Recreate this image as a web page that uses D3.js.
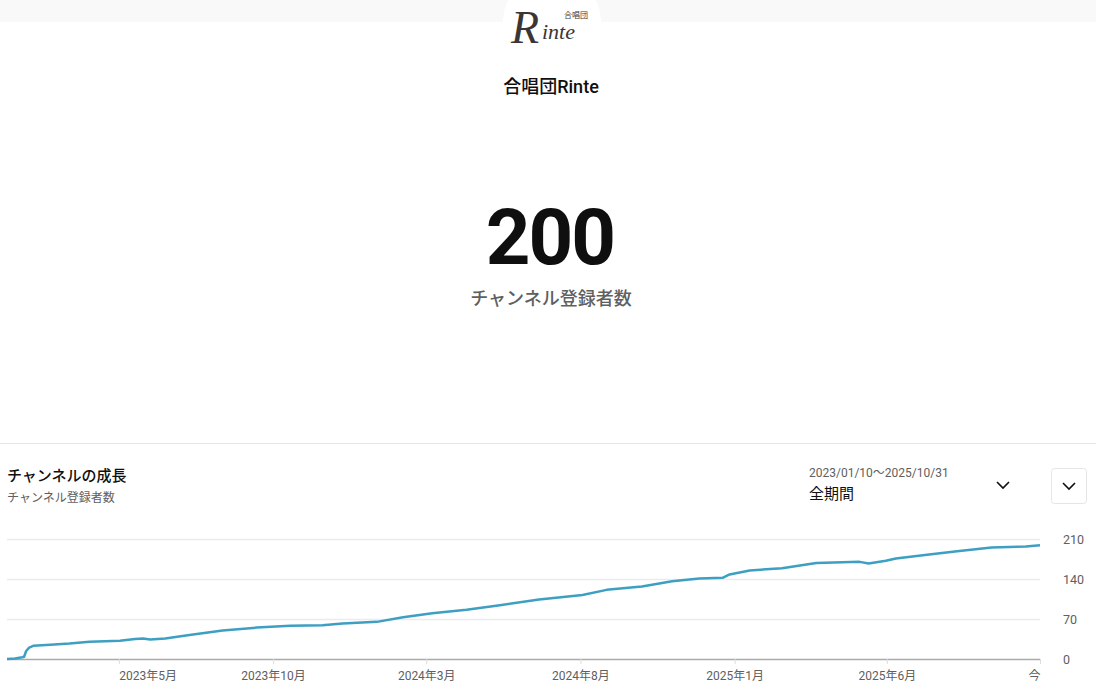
<!DOCTYPE html>
<html>
<head>
<meta charset="utf-8">
<script src="https://cdn.jsdelivr.net/npm/d3@7"></script>
<style>
  html, body { margin: 0; padding: 0; background: #fff; }
  body { width: 1096px; height: 698px; overflow: hidden; font-family: Roboto, "Noto Sans CJK JP", sans-serif; }
</style>
</head>
<body>
<svg id="chart" width="1096" height="698"></svg>
<script>
// ---- data ----
const channelName = "合唱団Rinte";
const subscriberTotal = "200";
const subscriberLabel = "チャンネル登録者数";
const panelTitle = "チャンネルの成長";
const panelSubtitle = "チャンネル登録者数";
const rangeText = "2023/01/10〜2025/10/31";
const periodText = "全期間";

const dates = [
  "2023-01-10","2023-01-18","2023-01-25","2023-01-27","2023-01-29","2023-02-01","2023-02-05",
  "2023-02-22","2023-03-13","2023-04-02","2023-05-02","2023-05-17","2023-05-25","2023-06-01",
  "2023-06-16","2023-07-10","2023-08-12","2023-09-15","2023-10-18","2023-11-19","2023-12-09",
  "2024-01-12","2024-02-07","2024-03-07","2024-04-10","2024-05-13","2024-06-21","2024-08-03",
  "2024-08-27","2024-10-01","2024-10-31","2024-11-27","2024-12-20","2024-12-27","2025-01-16",
  "2025-02-17","2025-03-23","2025-05-05","2025-05-14","2025-05-31","2025-06-10","2025-07-13",
  "2025-08-12","2025-09-13","2025-10-17","2025-10-31"
];
const subscribers = [
  0, 1, 3, 4, 14, 20, 23,
  25, 27, 30, 32, 35, 36, 34,
  36, 42, 50, 55, 58, 59, 62,
  65, 73, 80, 86, 94, 104, 112,
  121, 127, 136, 141, 142, 148, 155,
  159, 168, 170, 167, 172, 176, 183,
  189, 195, 197, 199
];
const xTickDates = ["2023-05-01","2023-10-01","2024-03-01","2024-08-01","2025-01-01","2025-06-01","2025-10-31"];
const xTickLabels = ["2023年5月","2023年10月","2024年3月","2024年8月","2025年1月","2025年6月","今"];
const yTickValues = [0, 70, 140, 210];

// ---- drawing ----
const svg = d3.select("#chart");
const parse = d3.timeParse("%Y-%m-%d");
const series = dates.map((d, i) => ({ date: parse(d), value: subscribers[i] }));

// header band + logo
svg.append("rect").attr("x", 0).attr("y", 0).attr("width", 1096).attr("height", 22).attr("fill", "#f9f9f9");
svg.append("circle").attr("cx", 552).attr("cy", 22).attr("r", 49).attr("fill", "#fff");
const logo = svg.append("g").attr("fill", "#3b3535");
logo.append("text").attr("x", 511).attr("y", 43)
  .attr("font-family", "'Liberation Serif', 'DejaVu Serif', serif").attr("font-style", "italic")
  .attr("font-size", 46).text("R");
logo.append("text").attr("x", 542).attr("y", 39)
  .attr("font-family", "'Liberation Serif', serif").attr("font-style", "italic")
  .attr("font-size", 22).text("inte");
logo.append("text").attr("x", 564).attr("y", 18)
  .attr("font-family", "'Noto Sans CJK JP', sans-serif")
  .attr("font-size", 8).text("合唱団");

// channel name
svg.append("text").attr("x", 551).attr("y", 93).attr("text-anchor", "middle")
  .attr("font-size", 18).attr("font-weight", 500).attr("fill", "#0f0f0f")
  .attr("font-family", "Roboto, 'Noto Sans CJK JP', sans-serif").text(channelName);

// big number
svg.append("text").attr("x", 550).attr("y", 264).attr("text-anchor", "middle")
  .attr("font-size", 78).attr("font-weight", 700).attr("fill", "#0f0f0f")
  .attr("letter-spacing", "-2px")
  .attr("font-family", "Roboto, sans-serif").text(subscriberTotal);
svg.append("text").attr("x", 551).attr("y", 305).attr("text-anchor", "middle")
  .attr("font-size", 18).attr("font-weight", 500).attr("fill", "#606060")
  .attr("font-family", "'Noto Sans CJK JP', sans-serif").text(subscriberLabel);

// separator
svg.append("line").attr("x1", 0).attr("x2", 1096).attr("y1", 443.5).attr("y2", 443.5)
  .attr("stroke", "#e5e5e5").attr("stroke-width", 1);

// panel header
svg.append("text").attr("x", 7).attr("y", 481).attr("font-size", 15).attr("font-weight", 500)
  .attr("fill", "#0f0f0f").attr("font-family", "'Noto Sans CJK JP', sans-serif").text(panelTitle);
svg.append("text").attr("x", 7).attr("y", 502).attr("font-size", 12)
  .attr("fill", "#606060").attr("font-family", "'Noto Sans CJK JP', sans-serif").text(panelSubtitle);
svg.append("text").attr("x", 809).attr("y", 477).attr("font-size", 12)
  .attr("fill", "#606060").attr("font-family", "Roboto, 'Noto Sans CJK JP', sans-serif").text(rangeText);
svg.append("text").attr("x", 809).attr("y", 499).attr("font-size", 15)
  .attr("fill", "#0f0f0f").attr("font-family", "'Noto Sans CJK JP', sans-serif").text(periodText);

function chevron(cx, cy) {
  svg.append("path").attr("d", `M${cx-6},${cy-3} L${cx},${cy+3} L${cx+6},${cy-3}`)
    .attr("fill", "none").attr("stroke", "#0f0f0f").attr("stroke-width", 1.6);
}
chevron(1003, 485);
svg.append("rect").attr("x", 1051.5).attr("y", 468.5).attr("width", 35).attr("height", 35).attr("rx", 3)
  .attr("fill", "#fff").attr("stroke", "#e5e5e5");
chevron(1069, 486);

// scales
const x = d3.scaleTime().domain([parse("2023-01-10"), parse("2025-10-31")]).range([7, 1040]);
const y = d3.scaleLinear().domain([0, 210]).range([659, 539]);

// gridlines + y labels
const yAxis = d3.axisRight(y).tickValues(yTickValues).tickSize(1033);
const gy = svg.append("g").attr("transform", "translate(7,0)").call(yAxis);
gy.select(".domain").remove();
gy.selectAll(".tick line").attr("stroke", d => d === 0 ? "#aaaaaa" : "#ececec").attr("stroke-width", 1.5);
gy.selectAll(".tick text").attr("x", 1056).attr("font-size", 12.5).attr("fill", "#606060")
  .attr("font-family", "Roboto, sans-serif");

// x axis
const xAxis = d3.axisBottom(x).tickValues(xTickDates.map(parse))
  .tickFormat((d, i) => xTickLabels[i]).tickSize(5).tickPadding(7);
const gx = svg.append("g").attr("transform", "translate(0,659)").call(xAxis);
gx.select(".domain").remove();
gx.selectAll(".tick line").attr("stroke", "#dddddd");
gx.selectAll(".tick text").attr("font-size", 12).attr("fill", "#606060")
  .attr("font-family", "Roboto, 'Noto Sans CJK JP', sans-serif");
gx.selectAll(".tick:first-of-type text").attr("text-anchor", "start");
gx.selectAll(".tick:last-of-type text").attr("text-anchor", "end").attr("dx", 0);

// line
const line = d3.line().x(d => x(d.date)).y(d => y(d.value));
svg.append("path").datum(series).attr("d", line).attr("fill", "none")
  .attr("stroke", "#3d9fc2").attr("stroke-width", 2.5).attr("stroke-linejoin", "round");
</script>
</body>
</html>
